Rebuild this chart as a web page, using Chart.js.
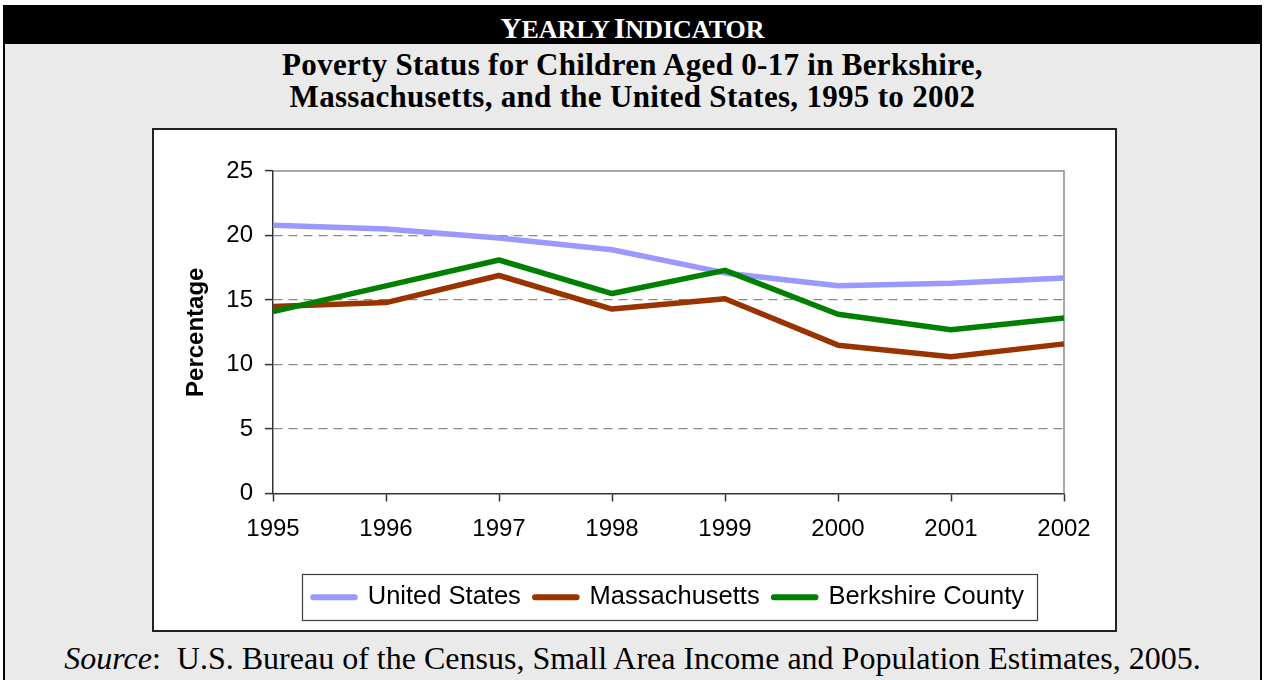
<!DOCTYPE html>
<html>
<head>
<meta charset="utf-8">
<script src="https://cdn.jsdelivr.net/npm/chart.js@4.4.1/dist/chart.umd.min.js"></script>
<style>
  html, body { margin: 0; padding: 0; background: #ffffff; }
  body { width: 1265px; height: 680px; position: relative; overflow: hidden; }
  #frame { position: absolute; left: 3px; top: 5px; width: 1259px; height: 700px;
           border: 2px solid #000; background: #eaeaea; box-sizing: border-box; }
  #hdr { position: absolute; left: 3px; top: 5px; width: 1259px; height: 39px; background: #000; }
  #hdrText { position: absolute; left: 0; top: 9px; width: 100%; text-align: center; color: #fff;
             font-family: 'Liberation Serif', 'Times New Roman', serif; font-weight: bold; line-height: 29px; }
  #hdrText .big { font-size: 29px; }
  #hdrText .sm { font-size: 26px; }
  #title { position: absolute; left: 3px; top: 49px; width: 1259px; text-align: center;
           font-family: 'Liberation Serif', 'Times New Roman', serif; font-weight: bold;
           font-size: 31px; letter-spacing: 0.3px; line-height: 31.6px; color: #000; }
  #box { position: absolute; left: 152px; top: 128px; width: 965px; height: 504px;
         border: 2px solid #222; background: #fff; box-sizing: border-box; }
  #chart { position: absolute; left: 154px; top: 130px; }
  #source { position: absolute; left: 3px; top: 640px; width: 1259px; text-align: center;
            font-family: 'Liberation Serif', 'Times New Roman', serif; font-size: 32px;
            line-height: 36px; color: #000; white-space: pre; }
</style>
</head>
<body>
<div id="frame"></div>
<div id="hdr"><div id="hdrText"><span class="big">Y</span><span class="sm">EARLY</span> <span class="big">I</span><span class="sm">NDICATOR</span></div></div>
<div id="title">Poverty Status for Children Aged 0-17 in Berkshire,<br>Massachusetts, and the United States, 1995 to 2002</div>
<div id="box"></div>
<canvas id="chart" width="961" height="500"></canvas>
<div id="source"><i>Source</i>:  U.S. Bureau of the Census, Small Area Income and Population Estimates, 2005.</div>
<script>
// ---- data ----
const years = ['1995', '1996', '1997', '1998', '1999', '2000', '2001', '2002'];
const unitedStates = [20.8, 20.5, 19.8, 18.9, 17.1, 16.1, 16.3, 16.7];
const massachusetts = [14.5, 14.8, 16.9, 14.3, 15.1, 11.5, 10.6, 11.6];
const berkshireCounty = [14.1, 16.1, 18.1, 15.5, 17.3, 13.9, 12.7, 13.6];
const seriesNames = ['United States', 'Massachusetts', 'Berkshire County'];
const yTicks = [0, 5, 10, 15, 20, 25];
const yAxisTitle = 'Percentage';

const sans = "'Liberation Sans', Arial, sans-serif";

const framePlugin = {
  id: 'framePlugin',
  beforeDatasetsDraw(chart) {
    const { ctx, chartArea: a } = chart;
    ctx.save();
    ctx.strokeStyle = '#8c8c8c';
    ctx.lineWidth = 1.5;
    ctx.beginPath();
    ctx.moveTo(a.left, a.top);
    ctx.lineTo(a.right, a.top);
    ctx.lineTo(a.right, a.bottom);
    ctx.stroke();
    ctx.restore();
  },
  afterDraw(chart) {
    const hb = chart.legend && chart.legend.legendHitBoxes;
    if (!hb || !hb.length) return;
    const { ctx } = chart;
    const first = hb[0], last = hb[hb.length - 1];
    const l = first.left - 11;
    const r = last.left + last.width + 13;
    const cy = first.top + first.height / 2;
    ctx.save();
    ctx.strokeStyle = '#404040';
    ctx.lineWidth = 1.2;
    ctx.strokeRect(Math.round(l) + 0.5, Math.round(cy - 23) + 0.5, Math.round(r - l), 46);
    ctx.restore();
  }
};

function makeSet(label, data, color, order) {
  return {
    label, data, order,
    borderColor: color, backgroundColor: color,
    borderWidth: 5.5, pointRadius: 0, pointHoverRadius: 0,
    tension: 0, borderJoinStyle: 'round', borderCapStyle: 'butt', fill: false
  };
}

new Chart(document.getElementById('chart'), {
  type: 'line',
  data: {
    labels: years,
    datasets: [
      makeSet(seriesNames[0], unitedStates, '#9999ff', 3),
      makeSet(seriesNames[1], massachusetts, '#993300', 2),
      makeSet(seriesNames[2], berkshireCounty, '#008000', 1)
    ]
  },
  options: {
    responsive: false,
    animation: false,
    events: [],
    layout: { padding: { left: 24, right: 51, top: 41, bottom: 10 } },
    plugins: {
      tooltip: { enabled: false },
      title: { display: false },
      legend: {
        display: true,
        position: 'bottom',
        fullSize: false,
        labels: {
          font: { family: sans, size: 25.5 },
          color: '#000',
          boxWidth: 42,
          boxHeight: 0.5,
          padding: 14,
          sort: (a, b) => a.datasetIndex - b.datasetIndex
        }
      }
    },
    scales: {
      x: {
        type: 'category',
        offset: false,
        ticks: { font: { family: sans, size: 24 }, color: '#000', padding: 13, maxRotation: 0, autoSkip: false },
        grid: { drawOnChartArea: false, drawTicks: true, tickLength: 8, tickColor: '#333', tickWidth: 1.5, color: '#333' },
        border: { color: '#333', width: 1.5 },
        afterFit: (s) => { s.height = 77; }
      },
      y: {
        min: yTicks[0],
        max: yTicks[yTicks.length - 1],
        afterBuildTicks: (s) => { s.ticks = yTicks.map(v => ({ value: v })); },
        ticks: { font: { family: sans, size: 24 }, color: '#000', padding: 12 },
        grid: {
          color: (c) => (c.tick && c.tick.value > yTicks[0] && c.tick.value < yTicks[yTicks.length - 1]) ? '#8a8a8a' : 'rgba(0,0,0,0)',
          lineWidth: 1.2,
          tickLength: 8, tickColor: '#333', tickWidth: 1.5, tickBorderDash: []
        },
        border: { color: '#333', width: 1.5, dash: [9, 6] },
        title: { display: true, text: yAxisTitle, color: '#000', font: { family: sans, size: 24, weight: 'bold' }, padding: { top: 4, bottom: 4 } },
        afterFit: (s) => { s.width = 95; }
      }
    }
  },
  plugins: [framePlugin]
});
</script>
</body>
</html>
